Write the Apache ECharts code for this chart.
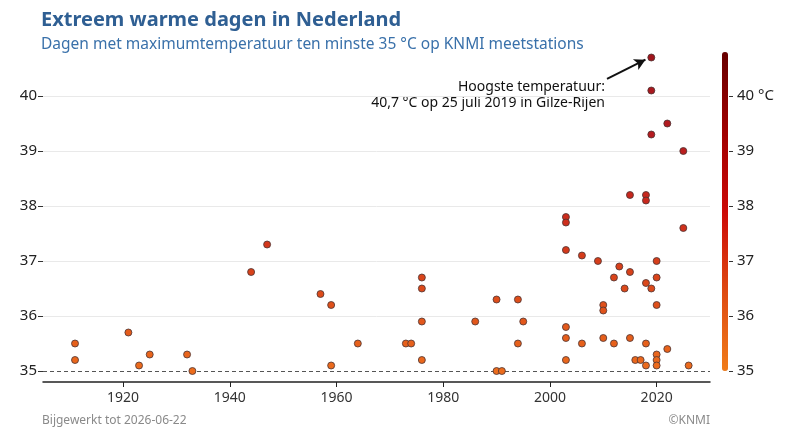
<!DOCTYPE html>
<html>
<head>
<meta charset="utf-8">
<script src="https://cdn.jsdelivr.net/npm/echarts@6/dist/echarts.min.js"></script>
<style>
    html, body { margin: 0; padding: 0; background: #fff; }
    #chart { width: 790px; height: 444px; }
</style>
</head>
<body>
<div id="chart"></div>
<script>
// years and max temperatures of every day >= 35 °C
const years = [
    1911, 1911, 1921, 1923, 1925, 1932, 1933, 1944, 1947, 1957,
    1959, 1959, 1964, 1973, 1974, 1976, 1976, 1976, 1976, 1986,
    1990, 1990, 1991, 1994, 1994, 1995,
    2003, 2003, 2003, 2003, 2003, 2003, 2006, 2006, 2009, 2010,
    2010, 2010, 2012, 2012, 2013, 2014, 2015, 2015, 2015, 2016,
    2017, 2018, 2018, 2018, 2018, 2018, 2019, 2019, 2019, 2019,
    2020, 2020, 2020, 2020, 2020, 2020, 2022, 2022, 2025, 2025, 2026
]
const temps = [
    35.5, 35.2, 35.7, 35.1, 35.3, 35.3, 35.0, 36.8, 37.3, 36.4,
    36.2, 35.1, 35.5, 35.5, 35.5, 36.7, 36.5, 35.9, 35.2, 35.9,
    36.3, 35.0, 35.0, 36.3, 35.5, 35.9,
    37.8, 37.7, 37.2, 35.8, 35.6, 35.2, 37.1, 35.5, 37.0, 36.2,
    36.1, 35.6, 36.7, 35.5, 36.9, 36.5, 38.2, 36.8, 35.6, 35.2,
    35.2, 38.2, 38.1, 36.6, 35.5, 35.1, 40.7, 40.1, 39.3, 36.5,
    37.0, 36.7, 36.2, 35.3, 35.2, 35.1, 39.5, 35.4, 39.0, 37.6, 35.1
]
const yearTicks = [1920, 1940, 1960, 1980, 2000, 2020]
const tempTicks = [35, 36, 37, 38, 39, 40]
const gridTemps = [36, 37, 38, 39, 40]
const recordLine1 = "Hoogste temperatuur:"
const recordLine2 = "40,7 °C op 25 juli 2019 in Gilze-Rijen"
const arrowFrom = [2010.7, 40.31]
const arrowTo = [2017.9, 40.66]

const fontName = "'Noto Sans', sans-serif"
let points = years.map((y, i) => [y, temps[i]])

let chartDom = document.getElementById('chart');
let myChart = echarts.init(chartDom, null, {renderer: 'canvas'});

let option = {
    animation: false,
    textStyle: {fontFamily: fontName},
    title: [
        {
            text: "Extreem warme dagen in Nederland",
            left: 41, top: 10, padding: 0,
            textStyle: {fontSize: 20, fontWeight: 'bold', color: '#2f5f93', fontFamily: fontName}
        },
        {
            text: "Dagen met maximumtemperatuur ten minste 35 °C op KNMI meetstations",
            left: 41, top: 37, padding: 0,
            textStyle: {fontSize: 15.5, fontWeight: 'normal', color: '#3a71aa', fontFamily: fontName}
        }
    ],
    grid: {left: 43, right: 80, top: 52, bottom: 62},
    xAxis: {
        type: 'value',
        min: 1905,
        max: 2030,
        axisLine: {show: true, lineStyle: {color: '#222', width: 1.5}},
        axisTick: {show: true, length: 5, customValues: yearTicks, lineStyle: {color: '#222'}},
        axisLabel: {
            customValues: yearTicks, fontSize: 14, color: '#333', margin: 9, fontFamily: fontName,
            formatter: (v) => String(v)
        },
        splitLine: {show: false}
    },
    yAxis: [
        {
            type: 'value',
            min: 34.8,
            max: 40.8,
            axisLine: {show: false},
            axisTick: {show: true, length: 5, customValues: tempTicks, lineStyle: {color: '#333'}},
            axisLabel: {customValues: tempTicks, fontSize: 15, color: '#222', margin: 6, fontFamily: fontName},
            splitLine: {show: false}
        },
        {
            type: 'value',
            position: 'right',
            offset: 19,
            min: 34.8,
            max: 40.8,
            axisLine: {show: false},
            axisTick: {show: true, length: 4, customValues: tempTicks, lineStyle: {color: '#333'}},
            axisLabel: {
                customValues: tempTicks, fontSize: 15, color: '#222', margin: 8, fontFamily: fontName,
                formatter: (v) => v === 40 ? '40 °C' : String(v)
            },
            splitLine: {show: false}
        }
    ],
    visualMap: [
        {
            // colour bar on the right
            type: 'continuous',
            seriesIndex: 1,
            dimension: 1,
            min: 35,
            max: 40.8,
            calculable: false,
            hoverLink: false,
            left: 722,
            top: 52,
            padding: 0,
            itemWidth: 6,
            itemHeight: 319,
            text: ['', ''],
            showLabel: false,
            inRange: {color: ['#f07c1a', '#de4a12', '#cc0a08', '#a00000', '#680000']}
        },
        {
            // colours of the dots
            type: 'continuous',
            show: false,
            seriesIndex: 0,
            dimension: 1,
            min: 35,
            max: 40.8,
            inRange: {color: ['#ec6c1c', '#dc4a1a', '#cc2a1c', '#b41c20', '#9e141c']}
        }
    ],
    series: [
        {
            type: 'scatter',
            data: points,
            symbolSize: 7,
            z: 5,
            itemStyle: {borderColor: '#4a3434', borderWidth: 0.8, opacity: 1},
            markLine: {
                silent: true,
                symbol: ['none', 'arrow'],
                symbolSize: [9, 11],
                label: {show: false},
                lineStyle: {color: '#111', width: 2, type: 'solid'},
                data: [[{coord: arrowFrom}, {coord: arrowTo}]]
            }
        },
        {
            type: 'line',
            data: [],
            z: 1,
            markLine: {
                silent: true,
                symbol: 'none',
                label: {show: false},
                data: gridTemps.map(t => ({yAxis: t, lineStyle: {color: '#e9e9e9', width: 1, type: 'solid'}}))
                    .concat([{yAxis: 35, lineStyle: {color: '#555', width: 1, type: [4, 3]}}])
            }
        }
    ],
    graphic: [
        {
            type: 'text', right: 185, top: 80,
            style: {text: recordLine1, font: "14px " + fontName, fill: '#111', textAlign: 'right'}
        },
        {
            type: 'text', right: 185, top: 96,
            style: {text: recordLine2, font: "14px " + fontName, fill: '#111', textAlign: 'right'}
        },
        {
            type: 'text', left: 42, top: 415,
            style: {text: "Bijgewerkt tot 2026-06-22", font: "12px " + fontName, fill: '#8a8a8a'}
        },
        {
            type: 'text', right: 80, top: 415,
            style: {text: "©KNMI", font: "12px " + fontName, fill: '#8a8a8a'}
        }
    ]
};

myChart.setOption(option);

window.addEventListener('resize', () => {
    myChart.resize()
})
</script>
</body>
</html>
